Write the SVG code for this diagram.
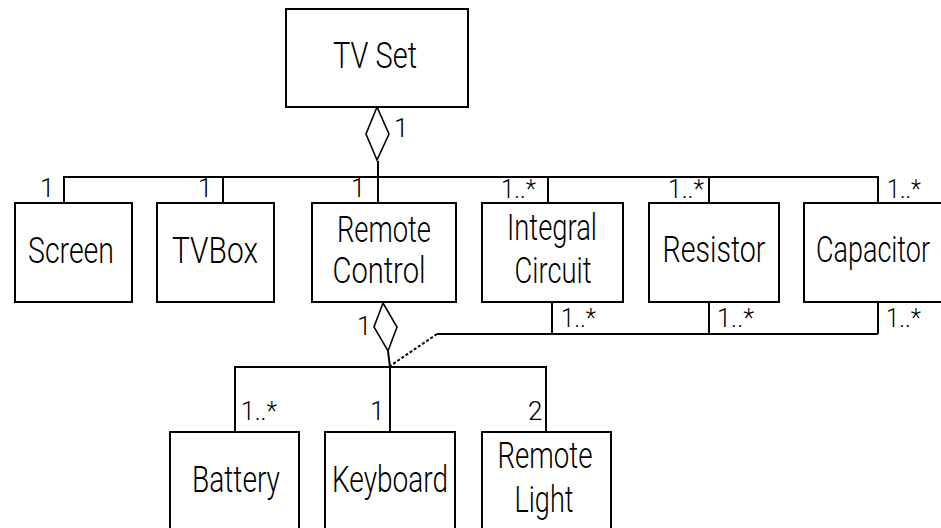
<svg xmlns="http://www.w3.org/2000/svg" width="941" height="528" viewBox="0 0 941 528">
<style>
.box{fill:#ffffff;stroke:#000;stroke-width:2}
.ln{fill:none;stroke:#000;stroke-width:2}
.dash{fill:none;stroke:#000;stroke-width:2;stroke-dasharray:3 2}
.dia{fill:#ffffff;stroke:#000;stroke-width:1.6}
.t{font-family:Roboto,"Liberation Sans",Arial,sans-serif;font-weight:300;font-size:37px;fill:#000;text-anchor:middle}
.m{font-family:Roboto,"Liberation Sans",Arial,sans-serif;font-weight:300;font-size:26px;fill:#000}
</style>
<rect x="0" y="0" width="941" height="528" fill="#ffffff"/>
<g id="connectors">
  <path class="ln" d="M64,203 V177 H878 V203 M223,177 V203 M378,161 V203 M548,177 V203 M709,177 V203"/>
  <path class="ln" d="M552,302 V334 M709,302 V334 M878,302 V334 M437,334 H878"/>
  <path class="dash" d="M437,334 L390,366"/>
  <path class="ln" d="M388,351 L390,367 M235,432 V367 H546 V432 M390,367 V432"/>
  <polygon class="dia" points="377,107 389,134 377,160 366,134"/>
  <polygon class="dia" points="383,303 397,327 388,351 374,327"/>
  <text class="m" x="394" y="137">1</text>
  <text class="m" x="357" y="335">1</text>
  <text class="m" x="40" y="197">1</text>
  <text class="m" x="198" y="197">1</text>
  <text class="m" x="351" y="197">1</text>
  <text class="m" x="501" y="198" textLength="35" lengthAdjust="spacingAndGlyphs">1..*</text>
  <text class="m" x="668" y="198" textLength="36" lengthAdjust="spacingAndGlyphs">1..*</text>
  <text class="m" x="887" y="198" textLength="34" lengthAdjust="spacingAndGlyphs">1..*</text>
  <text class="m" x="561" y="327" textLength="35" lengthAdjust="spacingAndGlyphs">1..*</text>
  <text class="m" x="717" y="327" textLength="37" lengthAdjust="spacingAndGlyphs">1..*</text>
  <text class="m" x="886" y="327" textLength="35" lengthAdjust="spacingAndGlyphs">1..*</text>
  <text class="m" x="241" y="420" textLength="36" lengthAdjust="spacingAndGlyphs">1..*</text>
  <text class="m" x="370" y="420">1</text>
  <text class="m" x="528" y="420">2</text>
</g>
<g id="tvset">
  <rect class="box" x="286" y="9" width="182" height="98"/>
  <text class="t" x="375" y="68" textLength="84" lengthAdjust="spacingAndGlyphs">TV Set</text>
</g>
<g id="screen">
  <rect class="box" x="15" y="203" width="117" height="99"/>
  <text class="t" x="71" y="263" textLength="86" lengthAdjust="spacingAndGlyphs">Screen</text>
</g>
<g id="tvbox">
  <rect class="box" x="157" y="203" width="117" height="99"/>
  <text class="t" x="215" y="263" textLength="86" lengthAdjust="spacingAndGlyphs">TVBox</text>
</g>
<g id="remotecontrol">
  <rect class="box" x="312" y="203" width="144" height="99"/>
  <text class="t" x="384" y="242" textLength="94" lengthAdjust="spacingAndGlyphs">Remote</text>
  <text class="t" x="379" y="283" textLength="93" lengthAdjust="spacingAndGlyphs">Control</text>
</g>
<g id="integralcircuit">
  <rect class="box" x="482" y="203" width="141" height="99"/>
  <text class="t" x="552" y="240" textLength="90" lengthAdjust="spacingAndGlyphs">Integral</text>
  <text class="t" x="553" y="283" textLength="77" lengthAdjust="spacingAndGlyphs">Circuit</text>
</g>
<g id="resistor">
  <rect class="box" x="649" y="203" width="130" height="99"/>
  <text class="t" x="714" y="262" textLength="103" lengthAdjust="spacingAndGlyphs">Resistor</text>
</g>
<g id="capacitor">
  <rect class="box" x="804" y="203" width="138" height="99"/>
  <text class="t" x="873" y="262" textLength="114" lengthAdjust="spacingAndGlyphs">Capacitor</text>
</g>
<g id="battery">
  <rect class="box" x="170" y="432" width="129" height="110"/>
  <text class="t" x="236" y="492" textLength="88" lengthAdjust="spacingAndGlyphs">Battery</text>
</g>
<g id="keyboard">
  <rect class="box" x="325" y="432" width="130" height="110"/>
  <text class="t" x="390" y="492" textLength="116" lengthAdjust="spacingAndGlyphs">Keyboard</text>
</g>
<g id="remotelight">
  <rect class="box" x="482" y="432" width="129" height="110"/>
  <text class="t" x="545" y="468" textLength="95" lengthAdjust="spacingAndGlyphs">Remote</text>
  <text class="t" x="544" y="512" textLength="59" lengthAdjust="spacingAndGlyphs">Light</text>
</g>
</svg>
